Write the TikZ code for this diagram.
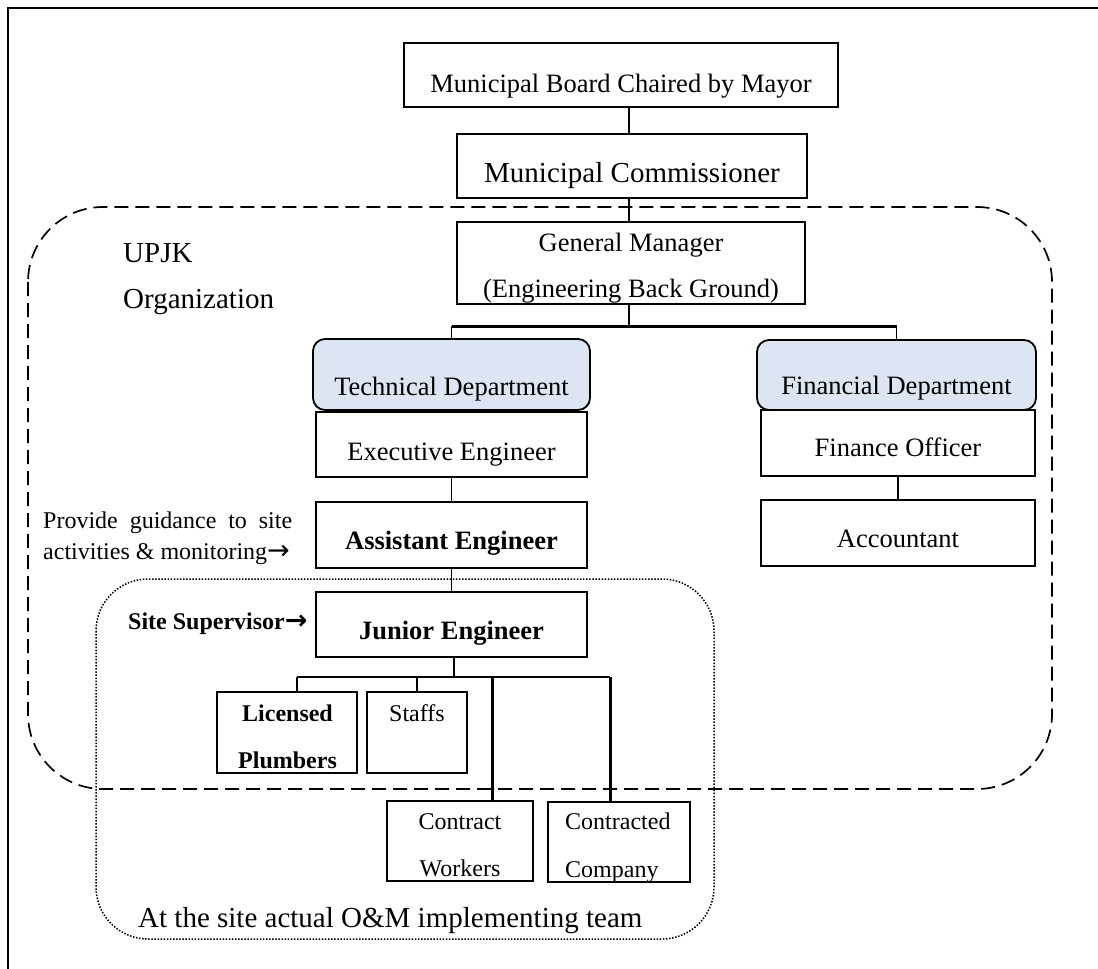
\documentclass[tikz,border=0pt]{standalone}
\usepackage{fontspec}
\setmainfont{Liberation Serif}
\newfontfamily\arrowfont{DejaVu Sans}
\newcommand{\rarr}{{\arrowfont\fontsize{27}{30}\selectfont →}}
\definecolor{deptblue}{HTML}{DCE6F2}
\begin{document}
\begin{tikzpicture}[x=1pt,y=-1pt,
  box/.style={draw,line width=1.4pt,inner sep=0pt,outer sep=0pt,rectangle},
  dept/.style={draw,line width=1.8pt,rounded corners=12pt,fill=deptblue,inner sep=0pt,outer sep=0pt,rectangle},
  conn/.style={line width=1.1pt},
  thickconn/.style={line width=3pt},
  midconn/.style={line width=2.2pt},
  txt/.style={anchor=base,inner sep=0pt,font=\fontsize{26.5}{30}\selectfont},
  txtbig/.style={anchor=base,inner sep=0pt,font=\fontsize{29}{33}\selectfont},
  txtsmall/.style={anchor=base,inner sep=0pt,font=\fontsize{24}{28}\selectfont},
  orgframe/.style={line width=1.7pt,dash pattern=on 14pt off 7pt,rounded corners=75pt},
  siteframe/.style={line width=1.5pt,dash pattern=on 1.5pt off 1.6pt,rounded corners=52pt}
]
\useasboundingbox (0,0) rectangle (1098,969);

% page frame (only the top and left edges fall inside the sheet)
\draw[line width=2.6pt] (8,969) -- (8,8) -- (1098,8);

% grouping outlines
\draw[orgframe] (28,207) rectangle (1052,789);
\draw[siteframe] (96,579) rectangle (714,939);

% top of the hierarchy
\node[box,minimum width=434pt,minimum height=64pt] (mb) at (621,75) {};
\node[txt] (mbt) at (621,92) {Municipal Board Chaired by Mayor};
\node[box,minimum width=350pt,minimum height=64pt] (mc) at (632,166) {};
\node[txtbig] (mct) at (632,182) {Municipal Commissioner};
\node[box,minimum width=348pt,minimum height=82pt] (gm) at (631,263) {};
\node[txt] (gmt1) at (631,251) {General Manager};
\node[txt] (gmt2) at (631,297) {(Engineering Back Ground)};

% departments
\node[dept,minimum width=277pt,minimum height=71pt] (tech) at (451.5,374.5) {};
\node[txt] (techt) at (451.5,395) {Technical Department};
\node[box,minimum width=271pt,minimum height=65pt] (exe) at (451.5,444.5) {};
\draw[line width=2.8pt] (exe.north west) -- (exe.north east);
\node[txt] (exet) at (451.5,460) {Executive Engineer};

\node[dept,minimum width=279pt,minimum height=70pt] (fin) at (896.5,375) {};
\node[txt] (fint) at (896.5,394) {Financial Department};
\node[box,minimum width=274pt,minimum height=66pt] (fo) at (898,443) {};
\node[txt] (fot) at (898,456) {Finance Officer};
\node[box,minimum width=274pt,minimum height=66pt] (acc) at (898,533) {};
\node[txt] (acct) at (898,547) {Accountant};

% engineering line
\node[box,minimum width=271pt,minimum height=66pt] (ae) at (451.5,535) {};
\node[txt,font=\fontsize{26.5}{30}\selectfont\bfseries] (aet) at (451.5,549) {Assistant Engineer};
\node[box,minimum width=271pt,minimum height=65pt] (je) at (451.5,624.5) {};
\node[txt,font=\fontsize{26.5}{30}\selectfont\bfseries] (jet) at (451.5,639) {Junior Engineer};

% side notes
\node[txtsmall,anchor=base west] (guide1) at (43,528) {\makebox[249pt][s]{Provide guidance to site}};
\node[txtsmall,anchor=base west] (guide2) at (43,559) {activities \& monitoring\rarr};
\node[txtsmall,anchor=base west,font=\fontsize{24}{28}\selectfont\bfseries] (sup) at (128,629) {Site Supervisor\rarr};
\node[txtbig,anchor=base west] (upjk) at (123,262) {UPJK};
\node[txtbig,anchor=base west] (org) at (123,308) {Organization};
\node[txtbig,anchor=base west] (team) at (138,927) {At the site actual O\&M implementing team};

% site level
\node[box,minimum width=140pt,minimum height=81pt] (lp) at (287,732.5) {};
\node[txtsmall,font=\fontsize{24}{28}\selectfont\bfseries] (lpt1) at (287.5,721) {Licensed};
\node[txtsmall,font=\fontsize{24}{28}\selectfont\bfseries] (lpt2) at (287.5,768) {Plumbers};
\node[box,minimum width=100pt,minimum height=81pt] (st) at (417,732.5) {};
\node[txtsmall] (stt) at (417,721) {Staffs};
\node[box,minimum width=146pt,minimum height=80pt] (cw) at (460,841) {};
\node[txtsmall] (cwt1) at (460,829) {Contract};
\node[txtsmall] (cwt2) at (460,876) {Workers};
\node[box,minimum width=142pt,minimum height=80pt] (cc) at (619,842) {};
\node[txtsmall,anchor=base west] (cct1) at (565,829) {Contracted};
\node[txtsmall,anchor=base west] (cct2) at (565,877) {Company};

% connectors
\coordinate (topx) at (629,0);
\draw[conn] (mb.south -| topx) -- (mc.north -| topx);
\draw[conn] (mc.south -| topx) -- (gm.north -| topx);

\coordinate (gmbar) at (629,326);
\draw[conn] (gm.south -| gmbar) -- (gmbar);
\draw[thickconn] (tech.north |- gmbar) -- (fin.north |- gmbar);
\draw[conn] (tech.north) -- (tech.north |- gmbar);
\draw[conn] (fin.north) -- (fin.north |- gmbar);

\draw[conn] (exe.south) -- (ae.north);
\draw[conn] (ae.south) -- (je.north);
\draw[conn] (fo.south) -- (acc.north);

\coordinate (jbar) at (454,677);
\coordinate (lpin) at (297,692);
\coordinate (cwin) at (492,801);
\coordinate (ccin) at (610,802);
\draw[conn] (je.south -| jbar) -- (jbar);
\draw[midconn] (lpin |- jbar) -- (ccin |- jbar);
\draw[conn] (lpin) -- (lpin |- jbar);
\draw[conn] (st.north) -- (st.north |- jbar);
\draw[thickconn] (cwin) -- (cwin |- jbar);
\draw[thickconn] (ccin) -- (ccin |- jbar);
\end{tikzpicture}
\end{document}
